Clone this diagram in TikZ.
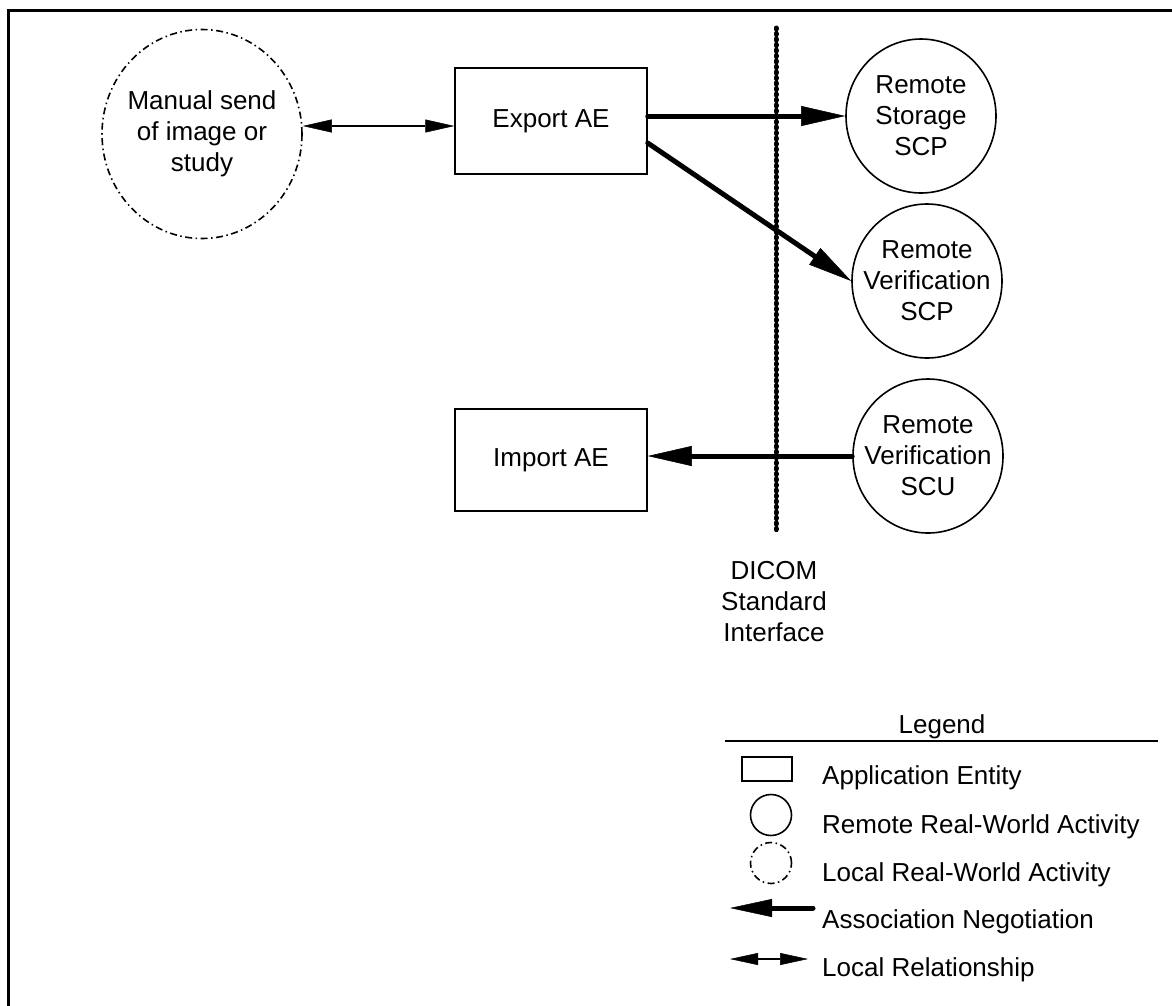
\documentclass[tikz,border=0pt]{standalone}
\usepackage{fontspec}
\setmainfont{Liberation Sans}
\usetikzlibrary{arrows.meta,shapes.geometric}

\begin{document}
\begin{tikzpicture}[x=1pt, y=-1pt,
  every node/.style = {font=\fontsize{26}{31}\selectfont, align=center},
  appbox/.style = {shape=rectangle, draw, line width=1.5pt,
    minimum width=192, minimum height=104},
  remote/.style = {shape=ellipse, draw, line width=1.6pt,
    minimum width=150, minimum height=154, inner sep=-12pt},
  local/.style = {shape=ellipse, draw, line width=1.6pt, inner sep=-4pt,
    dash pattern=on 7pt off 3.5pt on 1.5pt off 3.5pt},
  assoc/.style = {line width=5pt, line cap=round,
    -{Triangle[length=44pt, width=20pt, line width=0.5pt]}},
  localrel/.style = {line width=1.3pt,
    {Triangle[length=29pt, width=13pt, line width=0.5pt]}-{Triangle[length=29pt, width=13pt, line width=0.5pt]}},
  interface/.style = {line width=5pt, line cap=round, dash pattern=on 1pt off 4.5pt,
    preaction={draw, solid, line width=3pt}},
  legtext/.style = {anchor=base west, inner sep=0pt}]
  \useasboundingbox (0,0) rectangle (1172,1005);
  \draw[line width=3pt] (8,1012) -- (8,10) -- (1180,10);

  \node[local, minimum width=200, minimum height=209] (manual) at (202,134)
    {Manual send\\of image or\\study};
  \node[appbox, minimum height=106] (export) at (551,121) {Export AE};
  \node[appbox, minimum height=102] (import) at (551,460) {Import AE};
  \node[remote] (storage) at (921,116) {Remote\\Storage\\SCP};
  \node[remote] (verscp) at (927,281) {Remote\\Verification\\SCP};
  \node[remote] (verscu) at (928,456) {Remote\\Verification\\SCU};

  \coordinate (iftop) at (776,28);
  \coordinate (ifbot) at (776,532);
  \draw[interface] (iftop) -- (ifbot);
  \node[anchor=north, inner sep=0pt] (iflabel) at (774,561)
    {DICOM\\Standard\\Interface};

  \draw[localrel] ([yshift=8pt]manual.east) -- ([yshift=-5pt]export.west);
  \draw[assoc] (export.east |- storage.west) -- (storage.west);
  \draw[assoc] ([yshift=-22pt]export.east) -- (verscp.west);
  \draw[assoc] (verscu.west) -- (import.east |- verscu.west);

  % legend
  \node[anchor=base, inner sep=0pt] (legtitle) at (942,733) {Legend};
  \draw[line width=2.5pt] (725,741) -- (1158,741);
  \node[appbox, minimum width=50, minimum height=24] (keyae) at (767,769) {};
  \node[remote, minimum width=41, minimum height=41, inner sep=0pt] (keyremote) at (771,815) {};
  \node[local, minimum width=41, minimum height=41, inner sep=0pt] (keylocal) at (771,863) {};
  \coordinate (keyassocA) at (813,908);
  \coordinate (keyassocB) at (730,908);
  \draw[assoc, -{Triangle[length=42pt, width=18pt, line width=0.5pt]}] (keyassocA) -- (keyassocB);
  \coordinate (keyrelA) at (730,959);
  \coordinate (keyrelB) at (808,959);
  \draw[localrel, {Triangle[length=28pt, width=12pt, line width=0.5pt]}-{Triangle[length=28pt, width=12pt, line width=0.5pt]}] (keyrelA) -- (keyrelB);
  \node[legtext] (txtae) at (822,784) {Application Entity};
  \node[legtext] (txtremote) at (822,833) {Remote Real-World Activity};
  \node[legtext] (txtlocal) at (822,881) {Local Real-World Activity};
  \node[legtext] (txtassoc) at (822,928) {Association Negotiation};
  \node[legtext] (txtrel) at (822,976) {Local Relationship};
\end{tikzpicture}
\end{document}
